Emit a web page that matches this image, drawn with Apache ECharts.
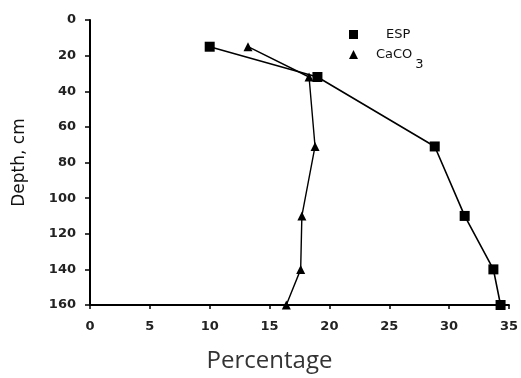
<!DOCTYPE html>
<html>
<head>
<meta charset="utf-8">
<script src="https://cdn.jsdelivr.net/npm/echarts@6/dist/echarts.min.js"></script>
<style>
  html, body { margin: 0; padding: 0; background: #fff; }
  #chart { width: 521px; height: 378px; }
</style>
</head>
<body>
<div id="chart"></div>
<script>
// Soil profile: depth (cm) vs. percentage
const depths = [15, 32, 71, 110, 140, 160];
const espValues = [10, 19, 28.8, 31.3, 33.7, 34.3];
const caco3Values = [13.2, 18.3, 18.8, 17.7, 17.6, 16.4];
const xTicks = [0, 5, 10, 15, 20, 25, 30, 35];
const yTicks = [0, 20, 40, 60, 80, 100, 120, 140, 160];

const FONT = 'DejaVu Sans, sans-serif';
const tickFont = { fontFamily: FONT, fontSize: 13, fontWeight: 'bold', color: '#222' };
const legendRich = {
  t: { fontFamily: FONT, fontSize: 13, color: '#111' },
  s: { fontFamily: FONT, fontSize: 13, color: '#111', verticalAlign: 'bottom', padding: [20, 0, 0, 3] }
};

const chart = echarts.init(document.getElementById('chart'));
chart.setOption({
  animation: false,
  backgroundColor: '#fff',
  grid: { left: 90, right: 12, top: 20, bottom: 73 },
  xAxis: {
    type: 'value',
    position: 'bottom',
    min: xTicks[0],
    max: xTicks[xTicks.length - 1],
    interval: 5,
    name: 'Percentage',
    nameLocation: 'middle',
    nameGap: 44,
    nameTextStyle: { fontFamily: 'Open Sans, sans-serif', fontSize: 24, color: '#333', padding: [0, 60, 0, 0] },
    axisLine: { onZero: false, lineStyle: { color: '#000', width: 2 } },
    axisTick: { length: 4, lineStyle: { color: '#000', width: 1.5 } },
    axisLabel: Object.assign({ margin: 15 }, tickFont),
    splitLine: { show: false }
  },
  yAxis: {
    type: 'value',
    inverse: true,
    min: yTicks[0],
    max: yTicks[yTicks.length - 1],
    interval: 20,
    name: 'Depth, cm',
    nameLocation: 'middle',
    nameGap: 62,
    nameTextStyle: { fontFamily: FONT, fontSize: 17, color: '#111' },
    axisLine: { onZero: false, lineStyle: { color: '#000', width: 2 } },
    axisTick: { length: 5, lineStyle: { color: '#000', width: 1.5 } },
    axisLabel: Object.assign({ margin: 14 }, tickFont),
    splitLine: { show: false }
  },
  legend: [
    {
      left: 344,
      top: 23,
      itemWidth: 9,
      itemHeight: 9,
      data: [{ name: 'ESP', icon: 'rect' }],
      formatter: '{t|{name}}',
      textStyle: { padding: [0, 0, 0, 23], rich: legendRich }
    },
    {
      left: 344,
      top: 43,
      itemWidth: 9,
      itemHeight: 9,
      data: [{ name: 'CaCO3', icon: 'triangle' }],
      formatter: '{t|CaCO}{s|3}',
      textStyle: { padding: [0, 0, 0, 13], rich: legendRich }
    }
  ],
  series: [
    {
      name: 'ESP',
      type: 'line',
      data: espValues.map((v, i) => [v, depths[i]]),
      symbol: 'rect',
      symbolSize: 10,
      itemStyle: { color: '#000' },
      lineStyle: { color: '#000', width: 1.6 },
      clip: false
    },
    {
      name: 'CaCO3',
      type: 'line',
      data: caco3Values.map((v, i) => [v, depths[i]]),
      symbol: 'triangle',
      symbolSize: 9,
      itemStyle: { color: '#000' },
      lineStyle: { color: '#000', width: 1.4 },
      clip: false
    }
  ]
});
</script>
</body>
</html>
